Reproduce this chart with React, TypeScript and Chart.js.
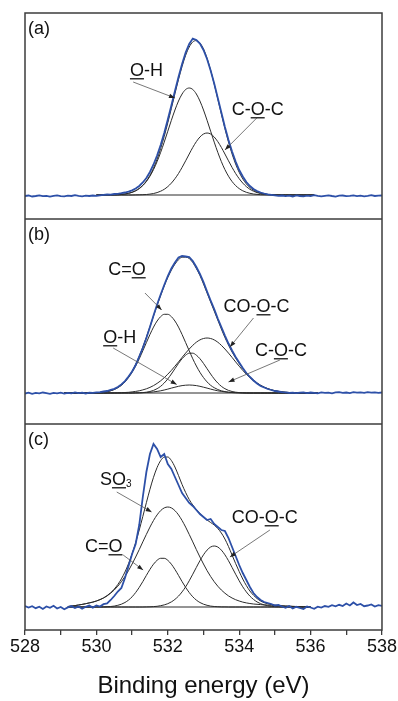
import React, { useEffect, useRef } from "react";
import { Chart, registerables } from "chart.js";

Chart.register(...registerables);

const FONT = '"Liberation Sans", Arial, Helvetica, sans-serif';

// Binding energy grid (eV)
const ENERGY = [
  528.0, 528.1, 528.2, 528.3, 528.4, 528.5, 528.6, 528.7, 528.8, 528.9,
  529.0, 529.1, 529.2, 529.3, 529.4, 529.5, 529.6, 529.7, 529.8, 529.9,
  530.0, 530.1, 530.2, 530.3, 530.4, 530.5, 530.6, 530.7, 530.8, 530.9,
  531.0, 531.1, 531.2, 531.3, 531.4, 531.5, 531.6, 531.7, 531.8, 531.9,
  532.0, 532.1, 532.2, 532.3, 532.4, 532.5, 532.6, 532.7, 532.8, 532.9,
  533.0, 533.1, 533.2, 533.3, 533.4, 533.5, 533.6, 533.7, 533.8, 533.9,
  534.0, 534.1, 534.2, 534.3, 534.4, 534.5, 534.6, 534.7, 534.8, 534.9,
  535.0, 535.1, 535.2, 535.3, 535.4, 535.5, 535.6, 535.7, 535.8, 535.9,
  536.0, 536.1, 536.2, 536.3, 536.4, 536.5, 536.6, 536.7, 536.8, 536.9,
  537.0, 537.1, 537.2, 537.3, 537.4, 537.5, 537.6, 537.7, 537.8, 537.9,
  538.0,
];

const X_TICK_LABELS = [528, 530, 532, 534, 536, 538];

// ---------- Panel (a) ----------
const A_RAW = [
  -1, -0.5, -1.5, -1, -0.3, -1.2, -0.8, -1.6, -0.9, -0.4,
  -1.1, -1.4, -0.7, -1, -0.2, -0.9, -1.3, -0.6, -1, -0.5,
  -0.8, -0.3, 0.2, 0.5, 0.4, 1.0, 1.2, 1.8, 2.5, 3.4,
  4.6, 6.5, 9.0, 12.5, 17.0, 23.0, 30.5, 39.5, 50.0, 62.0,
  75.5, 89.5, 104.0, 118.0, 131.0, 142.5, 151.0, 156.5, 155.0, 151.5,
  145.0, 136.0, 124.5, 111.5, 97.0, 82.5, 68.0, 55.0, 43.5, 33.5,
  25.0, 18.5, 13.0, 9.0, 6.0, 4.0, 2.5, 1.5, 0.6, 0.2,
  -0.3, -0.8,
  -0.5, -1.2, -0.7, -1.5, -0.4, -1.0, -1.3, -0.6, -1.1, -0.2,
  -0.9, -1.4, -0.8, -0.3, -1.0, -1.6, -0.7, -0.5, -1.2, -0.9,
  -0.4, -1.1, -0.6, -1.3, -0.8, -0.2, -1.0, -0.7, -0.5,
];
// fitted curves on 530.0 .. 536.1
const A_FIT = [
  0, 0, 0.1, 0.1, 0.1, 0.2, 0.3, 0.6, 1.0, 1.7,
  2.7, 4.3, 6.6, 9.7, 14.0, 19.7, 26.9, 35.8, 46.5, 58.6,
  72.2, 86.6, 101.3, 115.5, 128.6, 139.7, 148.0, 153.1, 154.4, 152.0,
  146.0, 136.7, 124.8, 110.9, 96.1, 81.0, 66.4, 53.0, 41.1, 30.9,
  22.7, 16.1, 11.1, 7.4, 4.8, 3.0, 1.8, 1.1, 0.6, 0.4,
  0.2, 0.1, 0, 0, 0, 0, 0, 0, 0, 0, 0, 0,
];
const A_OH = [
  0, 0, 0.1, 0.1, 0.1, 0.2, 0.3, 0.6, 1.0, 1.7,
  2.7, 4.2, 6.4, 9.4, 13.5, 18.8, 25.4, 33.4, 42.7, 52.9,
  63.8, 74.7, 85.0, 94.0, 101.0, 105.5, 107, 105.5, 101.0, 94.0,
  85.0, 74.7, 63.8, 52.9, 42.7, 33.4, 25.4, 18.8, 13.5, 9.4,
  6.4, 4.2, 2.7, 1.7, 1.0, 0.6, 0.3, 0.2, 0.1, 0.1,
  0, 0, 0, 0, 0, 0, 0, 0, 0, 0, 0, 0,
];
const A_COC = [
  0, 0, 0, 0, 0, 0, 0, 0, 0, 0,
  0, 0.1, 0.2, 0.3, 0.5, 0.9, 1.5, 2.4, 3.8, 5.7,
  8.4, 11.9, 16.3, 21.5, 27.6, 34.2, 41.0, 47.6, 53.4, 58.0,
  61.0, 62, 61.0, 58.0, 53.4, 47.6, 41.0, 34.2, 27.6, 21.5,
  16.3, 11.9, 8.4, 5.7, 3.8, 2.4, 1.5, 0.9, 0.5, 0.3,
  0.2, 0.1, 0, 0, 0, 0, 0, 0, 0, 0, 0, 0,
];

// ---------- Panel (b) ----------
const B_RAW = [
  -0.5, 0.3, -0.8, 0.1, -0.4, 0.5, -0.2, -0.9, 0.2, -0.3,
  0.4, -0.6, 0.1, -0.3, 0.6, -0.1, 0.3, -0.5, 0.4, 0.2,
  0.6, 0.9, 1.5, 2.0, 3.1, 4.2, 6.0, 8.6, 11.9, 16.5,
  21.5, 28.0, 36.5, 45.0, 55.0, 66.0, 77.5, 88.5, 98.5, 108.0,
  117.0, 124.5, 130.5, 135.5, 137.0, 136.5, 136.0, 132.0, 126.0, 119.0,
  111.0, 101.5, 92.5, 84.0, 74.5, 66.0, 57.5, 49.5, 42.5, 36.0,
  30.5, 25.0, 20.0, 16.0, 12.5, 9.5, 7.0, 5.5, 4.0, 3.0,
  2.0, 1.5, 0.8, 0.6, 0.1, 0.4,
  -0.2, 0.3, 0.6, -0.1, 0.5, 0.2, -0.4, 0.7, 0.1, 0.4,
  -0.3, 0.6, 0.9, 0.2, 0.5, -0.1, 0.8, 0.3, 0.6, 0.1,
  0.9, 0.4, 0.7, 0.2, 0.5,
];
// fitted curves on 529.1 .. 536.2
const B_FIT = [
  0, 0, 0, 0, 0, 0, 0, 0.1, 0.2,
  0.3, 0.5, 0.8, 1.4, 2.3, 3.6, 5.5, 8.0, 11.6, 16.1,
  21.8, 28.8, 36.8, 46.0, 55.9, 66.3, 77.0, 87.5, 97.5, 107.0,
  115.5, 122.9, 128.9, 133.3, 135.8, 135.9, 134.5, 130.5, 124.5, 117.5,
  109.0, 100.0, 91.0, 82.0, 73.0, 64.0, 55.5, 48.0, 41.0, 35.0,
  29.5, 24.5, 20.0, 16.2, 12.9, 10.1, 7.8, 5.9, 4.4, 3.2,
  2.3, 1.6, 1.1, 0.7, 0.5, 0.3, 0.2, 0.1, 0.1, 0,
  0, 0, 0,
];
const B_CO = [
  0, 0, 0, 0, 0, 0, 0, 0.1, 0.2,
  0.3, 0.5, 0.8, 1.4, 2.2, 3.5, 5.3, 7.7, 11.1, 15.4,
  20.7, 27.0, 34.2, 42.2, 50.4, 58.5, 65.9, 72.0, 76.4, 78.7,
  78.7, 76.4, 72.0, 65.9, 58.5, 50.4, 42.2, 34.2, 27.0, 20.7,
  15.4, 11.1, 7.7, 5.3, 3.5, 2.2, 1.4, 0.8, 0.5, 0.3,
  0.2, 0.1,
  0, 0, 0, 0, 0, 0, 0, 0, 0, 0, 0, 0, 0, 0, 0, 0, 0, 0, 0, 0, 0,
];
const B_OH = [
  0, 0, 0, 0, 0, 0, 0, 0, 0, 0, 0, 0, 0, 0, 0, 0, 0, 0, 0, 0,
  0.1, 0.2, 0.3, 0.45, 0.7, 1.1, 1.6, 2.2, 3.0,
  3.9, 4.9, 5.8, 6.7, 7.4, 7.8, 8.0, 7.8, 7.4, 6.7,
  5.8, 4.9, 3.9, 3.0, 2.2, 1.6, 1.1, 0.7, 0.45, 0.3,
  0.2, 0.1,
  0, 0, 0, 0, 0, 0, 0, 0, 0, 0, 0, 0, 0, 0, 0, 0, 0, 0, 0, 0, 0,
];
const B_COC = [
  0, 0, 0, 0, 0, 0, 0, 0, 0, 0, 0, 0, 0, 0, 0, 0, 0, 0, 0, 0,
  0.1, 0.2, 0.4, 0.8, 1.5, 2.6, 4.3, 6.7, 10.0,
  14.1, 19.0, 24.3, 29.6, 34.3, 37.8, 39.8, 39.8, 37.8, 34.3,
  29.6, 24.3, 19.0, 14.1, 10.0, 6.7, 4.3, 2.6, 1.5, 0.8,
  0.4, 0.2, 0.1,
  0, 0, 0, 0, 0, 0, 0, 0, 0, 0, 0, 0, 0, 0, 0, 0, 0, 0, 0, 0,
];
const B_COOC = [
  0, 0, 0, 0, 0, 0, 0, 0, 0, 0, 0, 0, 0,
  0.1, 0.1, 0.2, 0.3, 0.5, 0.7,
  1.1, 1.6, 2.2, 3.1, 4.2, 5.6, 7.4, 9.6, 12.2, 15.3,
  18.8, 22.6, 26.8, 31.1, 35.6, 39.9, 44.0, 47.7, 50.8, 53.1,
  54.5, 55, 54.5, 53.1, 50.8, 47.7, 44.0, 39.9, 35.6, 31.1,
  26.8, 22.6, 18.8, 15.3, 12.2, 9.6, 7.4, 5.6, 4.2, 3.1,
  2.2, 1.6, 1.1, 0.7, 0.5, 0.3, 0.2, 0.1, 0.1, 0,
  0, 0, 0,
];

// ---------- Panel (c) ----------
const C_RAW = [
  1.0, -0.5, 0.8, -1.2, 0.3, -2.0, 0.6, -0.8, 1.2, -1.5,
  0.0, -2.2, -0.4, 0.9, -1.0, 0.5, -1.8, 0.2, 1.4, -0.6,
  1.5, 0.5, 2.8, 3.5, 7.0, 11.0, 15.5, 19.0, 29.0, 41.0,
  53.0, 63.0, 82.0, 110.0, 135.0, 153.0, 163.0, 158.0, 150.0, 153.0,
  143.0, 138.0, 130.0, 122.0, 114.0, 109.0, 104.0, 101.0, 97.0, 93.0,
  90.0, 87.0, 88.0, 83.0, 80.0, 77.0, 76.0, 69.0, 60.0, 51.0,
  42.0, 34.0, 27.0, 20.0, 14.0, 10.0, 7.0, 5.0, 4.0, 3.0,
  1.5, 2.0,
  0.5, -0.8, 1.0, -1.5, 0.2, -1.0, -2.0, 0.5, -0.5, -1.8,
  0.3, -0.6, 1.0, 0.2, 1.8, 0.6, 2.2, 1.0, 3.5, 1.5,
  4.5, 2.0, 3.0, 0.8, 1.5, 2.5, 0.5, 1.8, 1.2,
];
// fitted curves on 529.2 .. 536.0
const C_FIT = [
  0.5, 0.9, 1.4, 2.0, 2.6, 3.3, 4.1, 4.9,
  6.0, 7.4, 9.1, 11.4, 14.3, 17.9, 22.5, 28.1, 35.0, 43.3,
  53.2, 64.5, 77.0, 90.5, 104.3, 117.7, 129.7, 139.5, 146.4, 149.9,
  150.0, 146.5, 140.0, 131.5, 122.5, 114.5, 107.5, 102.0, 97.5, 93.5,
  90.0, 87.0, 84.5, 82.0, 78.5, 74.0, 68.0, 60.5, 52.0, 43.5,
  35.5, 28.0, 21.5, 16.0, 11.8, 8.5, 6.0, 4.3, 3.2, 2.4,
  1.9, 1.5, 1.2, 1.0, 0.8, 0.6, 0.5, 0.4, 0.2, 0.1,
  0,
];
const C_SO3 = [
  0.5, 0.9, 1.4, 2.0, 2.6, 3.3, 4.1, 4.9,
  6.0, 7.3, 9.0, 11.1, 13.8, 17.0, 20.8, 25.3, 30.5, 36.4,
  43.0, 50.0, 57.4, 65.1, 72.6, 79.9, 86.5, 92.1, 96.4, 99.1,
  100, 99.1, 96.4, 92.1, 86.5, 79.9, 72.6, 65.1, 57.4, 50.0,
  43.0, 36.4, 30.5, 25.3, 20.8, 17.0, 13.8, 11.1, 9.0, 7.3,
  6.0, 4.9, 4.1, 3.5, 3.0, 2.7, 2.4, 2.1, 1.9, 1.7,
  1.5, 1.3, 1.1, 0.9, 0.8, 0.6, 0.5, 0.4, 0.2, 0.1,
  0,
];
const C_CO = [
  0, 0, 0, 0, 0, 0, 0, 0, 0,
  0.1, 0.1, 0.3, 0.5, 0.9, 1.7, 2.8, 4.5, 6.9,
  10.2, 14.5, 19.6, 25.4, 31.6, 37.6, 42.8, 46.7, 48.7, 48.7,
  46.7, 42.8, 37.6, 31.6, 25.4, 19.6, 14.5, 10.2, 6.9, 4.5,
  2.8, 1.7, 0.9, 0.5, 0.3, 0.1, 0.1,
  0, 0, 0, 0, 0, 0, 0, 0, 0, 0, 0, 0, 0, 0, 0, 0, 0, 0, 0, 0, 0, 0, 0, 0,
];
const C_COOC = [
  0, 0, 0, 0, 0, 0, 0, 0, 0, 0, 0, 0, 0, 0, 0, 0, 0, 0, 0, 0, 0, 0,
  0.1, 0.2, 0.4, 0.7, 1.3, 2.1,
  3.3, 5.1, 7.6, 10.9, 15.1, 20.2, 26.2, 32.8, 39.6, 46.3,
  52.2, 56.9, 60.0, 61, 60.0, 56.9, 52.2, 46.3, 39.6, 32.8,
  26.2, 20.2, 15.1, 10.9, 7.6, 5.1, 3.3, 2.1, 1.3, 0.7,
  0.4, 0.2, 0.1, 0.1,
  0, 0, 0, 0, 0, 0, 0,
];

const GRID_A = ENERGY.slice(20, 82);
const GRID_B = ENERGY.slice(11, 83);
const GRID_C = ENERGY.slice(12, 81);

type Part = { t: string; u?: boolean; sub?: boolean };
type Note = { parts: Part[]; x: number; y: number; from: [number, number]; to: [number, number] };

const NOTES_A: Note[] = [
  { parts: [{ t: "O", u: true }, { t: "-H" }], x: 530.94, y: 119, from: [531.03, 113], to: [532.2, 97] },
  { parts: [{ t: "C-" }, { t: "O", u: true }, { t: "-C" }], x: 533.79, y: 80, from: [534.52, 78], to: [533.6, 45] },
];
const NOTES_B: Note[] = [
  { parts: [{ t: "C=" }, { t: "O", u: true }], x: 530.33, y: 118, from: [531.36, 100], to: [531.83, 83] },
  { parts: [{ t: "O", u: true }, { t: "-H" }], x: 530.19, y: 50, from: [530.47, 45], to: [532.25, 8.5] },
  { parts: [{ t: "CO-" }, { t: "O", u: true }, { t: "-C" }], x: 533.56, y: 81, from: [534.4, 75], to: [533.74, 46] },
  { parts: [{ t: "C-" }, { t: "O", u: true }, { t: "-C" }], x: 534.44, y: 37, from: [535.14, 33], to: [533.7, 11] },
];
const NOTES_C: Note[] = [
  { parts: [{ t: "S" }, { t: "O", u: true }, { t: "3", sub: true }], x: 530.1, y: 122, from: [530.57, 115], to: [531.55, 95] },
  { parts: [{ t: "C=" }, { t: "O", u: true }], x: 529.68, y: 55, from: [530.75, 52], to: [531.31, 37] },
  { parts: [{ t: "CO-" }, { t: "O", u: true }, { t: "-C" }], x: 533.79, y: 84, from: [534.86, 77], to: [533.74, 50] },
];

const BLUE = "#2d50a8";
const DARK = "#2b2b2b";
const FRAME = "#3c3c3c";

function pts(xs: number[], ys: number[]) {
  return ys.map((y, i) => ({ x: xs[i], y }));
}

function rawSet(values: number[]) {
  return { data: pts(ENERGY, values), borderColor: BLUE, borderWidth: 1.8, pointRadius: 0, tension: 0 };
}
function fitSet(grid: number[], values: number[]) {
  return {
    data: pts(grid, values),
    borderColor: DARK,
    borderWidth: 1,
    pointRadius: 0,
    cubicInterpolationMode: "monotone" as const,
  };
}
function baseSet(grid: number[]) {
  return {
    data: [
      { x: grid[0], y: 0 },
      { x: grid[grid.length - 1], y: 0 },
    ],
    borderColor: DARK,
    borderWidth: 1,
    pointRadius: 0,
  };
}

function decorPlugin(letter: string, notes: Note[]) {
  return {
    id: "xpsDecor",
    afterDraw(chart: any) {
      const { ctx, chartArea: ca, scales } = chart;
      const xs = scales.x;
      const ys = scales.y;
      ctx.save();
      ctx.strokeStyle = FRAME;
      ctx.lineWidth = 1.5;
      ctx.strokeRect(ca.left, ca.top, ca.right - ca.left, ca.bottom - ca.top);

      ctx.fillStyle = "#111";
      ctx.textAlign = "left";
      ctx.textBaseline = "alphabetic";
      ctx.font = `18px ${FONT}`;
      ctx.fillText(letter, ca.left + 3, ca.top + 21);

      for (const n of notes) {
        const x1 = xs.getPixelForValue(n.from[0]);
        const y1 = ys.getPixelForValue(n.from[1]);
        const x2 = xs.getPixelForValue(n.to[0]);
        const y2 = ys.getPixelForValue(n.to[1]);
        ctx.strokeStyle = "#555";
        ctx.lineWidth = 0.8;
        ctx.beginPath();
        ctx.moveTo(x1, y1);
        ctx.lineTo(x2, y2);
        ctx.stroke();
        const ang = Math.atan2(y2 - y1, x2 - x1);
        const L = 6;
        const W = 2.2;
        const bx = x2 - L * Math.cos(ang);
        const by = y2 - L * Math.sin(ang);
        ctx.fillStyle = "#222";
        ctx.beginPath();
        ctx.moveTo(x2, y2);
        ctx.lineTo(bx + W * Math.sin(ang), by - W * Math.cos(ang));
        ctx.lineTo(bx - W * Math.sin(ang), by + W * Math.cos(ang));
        ctx.closePath();
        ctx.fill();

        let cx = xs.getPixelForValue(n.x);
        const ty = ys.getPixelForValue(n.y);
        for (const p of n.parts) {
          const size = p.sub ? 10 : 18;
          ctx.font = `${size}px ${FONT}`;
          const w = ctx.measureText(p.t).width;
          ctx.fillStyle = "#111";
          ctx.fillText(p.t, cx, p.sub ? ty + 2 : ty);
          if (p.u) {
            ctx.fillStyle = "#333";
            ctx.fillRect(cx, ty + 2, w, 1.5);
          }
          cx += w;
        }
      }
      ctx.restore();
    },
  };
}

function makeConfig(opts: {
  datasets: any[];
  yMin: number;
  yMax: number;
  top: number;
  letter: string;
  notes: Note[];
  withAxis: boolean;
}) {
  const xAxis: any = opts.withAxis
    ? {
        type: "linear",
        min: 528,
        max: 538,
        position: "bottom",
        afterFit: (s: any) => {
          s.height = 71;
        },
        border: { display: false },
        grid: {
          display: true,
          drawOnChartArea: false,
          drawTicks: true,
          tickLength: 5,
          color: FRAME,
          lineWidth: 1.3,
        },
        ticks: {
          stepSize: 1,
          autoSkip: false,
          maxRotation: 0,
          padding: 1,
          color: "#111",
          font: { family: FONT, size: 18 },
          callback: (v: any) => (X_TICK_LABELS.includes(Number(v)) ? String(v) : ""),
        },
        title: {
          display: true,
          text: "Binding energy (eV)",
          color: "#111",
          font: { family: FONT, size: 24 },
          padding: { top: 0, bottom: 0 },
        },
      }
    : { type: "linear", min: 528, max: 538, display: false };

  return {
    type: "line" as const,
    data: { datasets: opts.datasets },
    options: {
      animation: false as const,
      responsive: false,
      maintainAspectRatio: false,
      events: [] as any[],
      layout: { padding: { left: 25, right: 16, top: opts.top, bottom: 0 } },
      plugins: { legend: { display: false }, tooltip: { enabled: false } },
      scales: {
        x: xAxis,
        y: { type: "linear", min: opts.yMin, max: opts.yMax, display: false },
      },
    },
    plugins: [decorPlugin(opts.letter, opts.notes)],
  };
}

export default function App() {
  const refA = useRef<HTMLCanvasElement | null>(null);
  const refB = useRef<HTMLCanvasElement | null>(null);
  const refC = useRef<HTMLCanvasElement | null>(null);

  useEffect(() => {
    Chart.defaults.font.family = FONT;
    const charts: Chart[] = [];
    if (refA.current) {
      charts.push(
        new Chart(
          refA.current,
          makeConfig({
            datasets: [
              rawSet(A_RAW),
              fitSet(GRID_A, A_FIT),
              fitSet(GRID_A, A_OH),
              fitSet(GRID_A, A_COC),
              baseSet(GRID_A),
            ],
            yMin: -24,
            yMax: 182,
            top: 13,
            letter: "(a)",
            notes: NOTES_A,
            withAxis: false,
          }) as any
        )
      );
    }
    if (refB.current) {
      charts.push(
        new Chart(
          refB.current,
          makeConfig({
            datasets: [
              rawSet(B_RAW),
              fitSet(GRID_B, B_FIT),
              fitSet(GRID_B, B_CO),
              fitSet(GRID_B, B_OH),
              fitSet(GRID_B, B_COC),
              fitSet(GRID_B, B_COOC),
              baseSet(GRID_B),
            ],
            yMin: -31,
            yMax: 174,
            top: 0,
            letter: "(b)",
            notes: NOTES_B,
            withAxis: false,
          }) as any
        )
      );
    }
    if (refC.current) {
      charts.push(
        new Chart(
          refC.current,
          makeConfig({
            datasets: [
              rawSet(C_RAW),
              fitSet(GRID_C, C_FIT),
              fitSet(GRID_C, C_SO3),
              fitSet(GRID_C, C_CO),
              fitSet(GRID_C, C_COOC),
              baseSet(GRID_C),
            ],
            yMin: -23,
            yMax: 183,
            top: 0,
            letter: "(c)",
            notes: NOTES_C,
            withAxis: true,
          }) as any
        )
      );
    }
    return () => {
      charts.forEach((c) => c.destroy());
    };
  }, []);

  return (
    <div style={{ position: "absolute", left: 0, top: 0, width: 398, height: 701, background: "#fff" }}>
      <canvas ref={refA} width={398} height={219} style={{ display: "block" }} />
      <canvas ref={refB} width={398} height={205} style={{ display: "block" }} />
      <canvas ref={refC} width={398} height={277} style={{ display: "block" }} />
    </div>
  );
}
